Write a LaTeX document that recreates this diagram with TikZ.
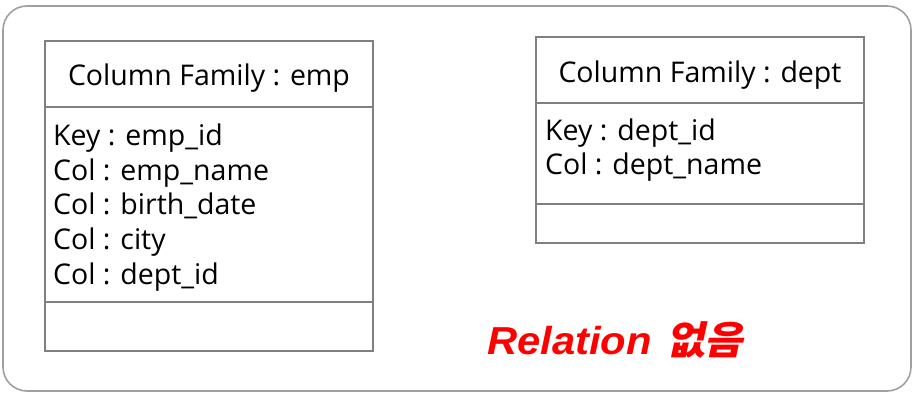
\documentclass[tikz,border=0pt]{standalone}
\usepackage{fontspec}
\setmainfont{Open Sans}
\newfontfamily\redlatin{Liberation Sans}
\newfontfamily\hangul{Noto Sans CJK KR}[FakeSlant=0.2]
\definecolor{framegray}{HTML}{A0A0A0}
\definecolor{boxgray}{HTML}{808080}
\definecolor{alertred}{HTML}{FF0000}
\tikzset{
  cfbox/.style={draw=boxgray, line width=1.6pt, fill=white},
  cfrule/.style={draw=boxgray, line width=1.6pt},
  cfhead/.style={inner sep=0pt, anchor=base, font=\fontsize{28.5}{32}\selectfont},
  cfline/.style={inner sep=0pt, anchor=base west, font=\fontsize{28.5}{32}\selectfont},
}
\begin{document}
\begin{tikzpicture}[x=1pt, y=-1pt]
\useasboundingbox (0,0) rectangle (915,396);
% outer frame
\draw[framegray, line width=1.6pt, rounded corners=24pt] (3,6) rectangle (911,391);

% column family: emp
\node[cfbox, minimum width=328pt, minimum height=310pt, inner sep=0pt] (emp) at (209,196) {};
\coordinate (empA) at (45,107);
\coordinate (empB) at (373,107);
\coordinate (empC) at (45,302);
\coordinate (empD) at (373,302);
\draw[cfrule] (empA) -- (empB);
\draw[cfrule] (empC) -- (empD);
\node[cfhead] (emph) at (209,85) {Column Family : emp};
\node[cfline] (emp1) at (53,145) {Key : emp\_id};
\node[cfline] (emp2) at (53,180) {Col : emp\_name};
\node[cfline] (emp3) at (53,214) {Col : birth\_date};
\node[cfline] (emp4) at (53,249) {Col : city};
\node[cfline] (emp5) at (53,284) {Col : dept\_id};

% column family: dept
\node[cfbox, minimum width=328pt, minimum height=206pt, inner sep=0pt] (dept) at (700,140) {};
\coordinate (deptA) at (536,103);
\coordinate (deptB) at (864,103);
\coordinate (deptC) at (536,204);
\coordinate (deptD) at (864,204);
\draw[cfrule] (deptA) -- (deptB);
\draw[cfrule] (deptC) -- (deptD);
\node[cfhead] (depth) at (700,82) {Column Family : dept};
\node[cfline] (dept1) at (545,140) {Key : dept\_id};
\node[cfline] (dept2) at (545,174) {Col : dept\_name};

% note
\node[inner sep=0pt, anchor=base west, text=alertred, font=\fontsize{39}{42}\selectfont] (note) at (487,354)
  {\scalebox{1.07}[1]{{\redlatin\bfseries\itshape Relation}\hspace{0.35em}{\hangul\bfseries 없음}}};
\end{tikzpicture}
\end{document}
